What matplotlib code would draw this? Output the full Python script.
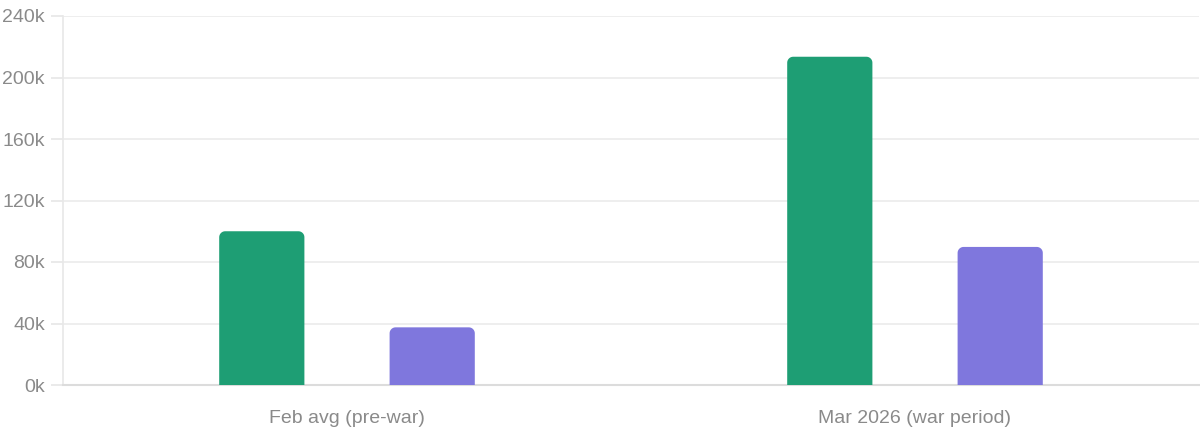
import numpy as np
import matplotlib.pyplot as plt
from matplotlib.patches import PathPatch
from matplotlib.path import Path

plt.rcParams['font.family'] = ['Liberation Sans', 'DejaVu Sans']

categories = ["Feb avg (pre-war)", "Mar 2026 (war period)"]
series_a = [100000, 213500]
series_b = [37500, 89800]
yticks = [0, 40000, 80000, 120000, 160000, 200000, 240000]
ytick_labels = ["0k", "40k", "80k", "120k", "160k", "200k", "240k"]

green = "#1e9e74"
purple = "#7f77dd"

fig = plt.figure(figsize=(12, 4.33), dpi=100)
ax = fig.add_axes([63 / 1200, 48 / 433, 1136 / 1200, 369 / 433])

x = np.arange(len(categories))
w = 0.15
bars_a = ax.bar(x - 0.15, series_a, width=w, color=green, alpha=0)
bars_b = ax.bar(x + 0.15, series_b, width=w, color=purple, alpha=0)

ax.set_xlim(-0.5, 1.5)
ax.set_ylim(0, 240000)

# rounded top corners, radius given in pixels
xpp = 2.0 / 1136
ypp = 240000 / 369
r_px = 6


def rounded_top(bx, bw, bh):
    rx, ry = r_px * xpp, r_px * ypp
    cy = bh - ry
    pts = [(bx, 0)]
    for a in np.linspace(np.pi, np.pi / 2, 12):
        pts.append((bx + rx + rx * np.cos(a), cy + ry * np.sin(a)))
    for a in np.linspace(np.pi / 2, 0, 12):
        pts.append((bx + bw - rx + rx * np.cos(a), cy + ry * np.sin(a)))
    pts.append((bx + bw, 0))
    pts.append((bx, 0))
    return Path(pts, closed=True)


for bars, col in [(bars_a, green), (bars_b, purple)]:
    for b in bars:
        p = rounded_top(b.get_x(), b.get_width(), b.get_height())
        ax.add_patch(PathPatch(p, fc=col, ec="none", zorder=3))

ax.set_yticks(yticks)
ax.set_yticklabels(ytick_labels)
ax.set_xticks(x)
ax.set_xticklabels(categories)
ax.grid(axis="y", color="#ebebeb", linewidth=1.2, zorder=0)
ax.set_axisbelow(True)

ax.tick_params(axis="y", length=9, color="#e6e6e6", width=1.2, pad=4,
               labelsize=14, labelcolor="#8a8a8a")
ax.tick_params(axis="x", length=0, pad=18, labelsize=14, labelcolor="#8a8a8a")

for s in ["top", "right"]:
    ax.spines[s].set_visible(False)
ax.spines["left"].set_color("#e8e8e8")
ax.spines["left"].set_linewidth(1.2)
ax.spines["bottom"].set_color("#dcdcdc")
ax.spines["bottom"].set_linewidth(1.5)

fig.savefig("out.png", dpi=100)
